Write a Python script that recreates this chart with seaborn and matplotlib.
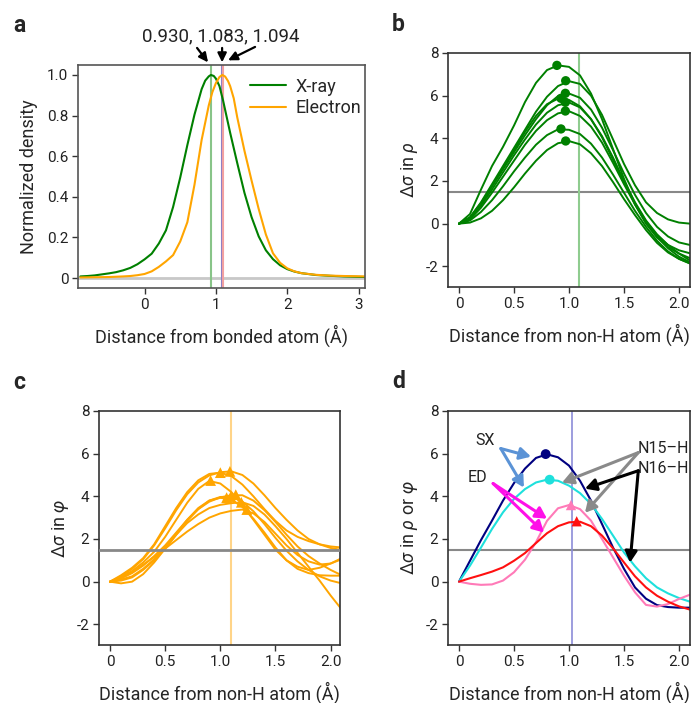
import numpy as np
import pandas as pd
import matplotlib
matplotlib.use("Agg")
import matplotlib.pyplot as plt
import seaborn as sns

sns.set_theme(style="white")
plt.rcParams['font.family'] = ['Roboto', 'DejaVu Sans']
plt.rcParams['mathtext.fontset'] = 'custom'
plt.rcParams['mathtext.rm'] = 'Roboto'
plt.rcParams['mathtext.it'] = 'Roboto:italic'

# ---------------- data ----------------
# panel a (normalized density vs distance from bonded atom)
xray_x = [-0.9, -0.8, -0.7, -0.6, -0.5, -0.4, -0.3, -0.2, -0.1, 0.0, 0.1, 0.2, 0.3, 0.4,
          0.5, 0.6, 0.7, 0.8, 0.85, 0.9, 0.93, 0.97, 1.0, 1.05, 1.1, 1.2, 1.3, 1.4, 1.5,
          1.6, 1.7, 1.8, 1.9, 2.0, 2.1, 2.2, 2.4, 2.6, 2.8, 3.1]
xray_y = [0.008, 0.010, 0.013, 0.018, 0.023, 0.029, 0.038, 0.050, 0.068, 0.092, 0.12, 0.17,
          0.235, 0.35, 0.495, 0.655, 0.805, 0.93, 0.972, 0.993, 1.0, 0.995, 0.982, 0.945,
          0.875, 0.715, 0.565, 0.42, 0.3, 0.205, 0.137, 0.093, 0.063, 0.044, 0.032, 0.024,
          0.015, 0.011, 0.008, 0.005]
elec_x = [-0.9, -0.5, -0.3, -0.2, -0.1, 0.0, 0.1, 0.2, 0.3, 0.4, 0.5, 0.6, 0.7, 0.8, 0.9,
          0.95, 1.0, 1.05, 1.09, 1.13, 1.17, 1.2, 1.25, 1.3, 1.4, 1.5, 1.6, 1.7, 1.8, 1.9,
          2.0, 2.1, 2.2, 2.4, 2.6, 2.8, 3.1]
elec_y = [0.003, 0.005, 0.008, 0.010, 0.014, 0.02, 0.033, 0.055, 0.082, 0.113, 0.18, 0.275,
          0.46, 0.68, 0.85, 0.915, 0.96, 0.99, 1.0, 0.992, 0.97, 0.945, 0.885, 0.79, 0.627,
          0.48, 0.34, 0.215, 0.122, 0.075, 0.048, 0.033, 0.024, 0.016, 0.012, 0.010, 0.008]
a_vlines = [0.930, 1.083, 1.094]
a_label = "0.930, 1.083, 1.094"

# common distance grid (Å) for panels b-d
dist = [0.0, 0.1, 0.2, 0.3, 0.4, 0.5, 0.6, 0.7, 0.8, 0.9, 1.0,
        1.1, 1.2, 1.3, 1.4, 1.5, 1.6, 1.7, 1.8, 1.9, 2.0, 2.1]

# panel b (X-ray, rho)
b_curves = [
    [0, 0.45, 1.6, 2.7, 3.6, 4.6, 5.7, 6.6, 7.2, 7.42, 7.35, 6.95, 6.1, 4.9, 3.5, 2.1, 0.9, 0.0, -0.65, -1.1, -1.4, -1.62],
    [0, 0.3, 1.0, 1.85, 2.7, 3.55, 4.4, 5.25, 5.95, 6.45, 6.68, 6.55, 6.0, 5.1, 3.95, 2.8, 1.8, 1.0, 0.5, 0.2, 0.05, 0.0],
    [0, 0.28, 0.95, 1.75, 2.55, 3.35, 4.15, 4.9, 5.55, 5.98, 6.1, 5.9, 5.35, 4.5, 3.45, 2.35, 1.35, 0.5, -0.15, -0.6, -0.88, -1.0],
    [0, 0.28, 0.95, 1.75, 2.6, 3.45, 4.3, 5.05, 5.6, 5.86, 5.8, 5.5, 4.9, 4.05, 3.0, 1.95, 0.95, 0.1, -0.55, -1.0, -1.25, -1.39],
    [0, 0.25, 0.85, 1.6, 2.4, 3.2, 3.95, 4.65, 5.2, 5.55, 5.68, 5.45, 4.9, 4.1, 3.1, 2.0, 1.0, 0.15, -0.5, -1.0, -1.4, -1.73],
    [0, 0.2, 0.75, 1.45, 2.2, 2.95, 3.7, 4.35, 4.85, 5.17, 5.27, 5.05, 4.55, 3.8, 2.85, 1.85, 0.9, 0.05, -0.6, -1.15, -1.55, -1.81],
    [0, 0.15, 0.55, 1.1, 1.75, 2.45, 3.1, 3.7, 4.15, 4.42, 4.4, 4.2, 3.75, 3.1, 2.3, 1.45, 0.6, -0.15, -0.8, -1.3, -1.65, -1.86],
    [0, 0.05, 0.25, 0.6, 1.1, 1.7, 2.35, 2.95, 3.45, 3.77, 3.87, 3.72, 3.3, 2.7, 1.95, 1.15, 0.4, -0.3, -0.9, -1.35, -1.65, -1.87],
]
b_peak_x = [0.89, 0.97, 0.967, 0.927, 0.967, 0.967, 0.927, 0.97]
b_peak_y = [7.42, 6.70, 6.11, 5.875, 5.69, 5.28, 4.44, 3.875]
b_vline = 1.09

# panel c (electron, phi)
c_curves = [
    [0, 0.2, 0.5, 0.9, 1.4, 2.1, 2.9, 3.7, 4.35, 4.72, 4.6, 4.2, 3.6, 2.9, 2.2, 1.5, 1.0, 0.7, 0.55, 0.65, 0.85, 1.1],
    [0, 0.3, 0.65, 1.1, 1.75, 2.6, 3.45, 4.2, 4.75, 5.05, 5.11, 4.95, 4.55, 4.0, 3.4, 2.85, 2.4, 2.1, 1.9, 1.75, 1.65, 1.6],
    [0, 0.25, 0.6, 1.05, 1.7, 2.5, 3.35, 4.1, 4.65, 4.98, 5.13, 5.17, 5.0, 4.6, 4.05, 3.45, 2.9, 2.4, 2.0, 1.75, 1.58, 1.48],
    [0, 0.1, 0.25, 0.6, 1.05, 1.6, 2.25, 2.9, 3.45, 3.8, 3.93, 3.85, 3.5, 2.95, 2.3, 1.6, 1.0, 0.6, 0.4, 0.3, 0.28, 0.28],
    [0, 0.05, 0.2, 0.55, 1.0, 1.55, 2.2, 2.85, 3.4, 3.8, 3.97, 3.98, 3.75, 3.3, 2.7, 2.05, 1.45, 0.95, 0.55, 0.25, 0.05, -0.08],
    [0, 0.15, 0.4, 0.75, 1.2, 1.7, 2.3, 2.9, 3.4, 3.75, 3.95, 4.05, 4.05, 3.8, 3.35, 2.8, 2.2, 1.65, 1.2, 0.85, 0.55, 0.3],
    [0, -0.08, 0.0, 0.35, 0.9, 1.55, 2.2, 2.75, 3.15, 3.45, 3.6, 3.68, 3.72, 3.55, 3.15, 2.6, 2.0, 1.35, 0.7, 0.05, -0.65, -1.3],
    [0, 0.2, 0.45, 0.8, 1.15, 1.55, 1.95, 2.35, 2.7, 3.0, 3.2, 3.32, 3.38, 3.2, 2.8, 2.25, 1.7, 1.25, 0.95, 0.8, 0.85, 1.05],
]
c_peak_x = [0.912, 1.0, 1.087, 1.057, 1.094, 1.14, 1.19, 1.24]
c_peak_y = [4.74, 5.11, 5.17, 3.94, 3.99, 4.08, 3.72, 3.38]
c_vline = 1.094

# panel d
d_sx_n15 = [0, 0.98, 1.95, 2.86, 3.8, 4.62, 5.3, 5.8, 5.97, 5.83, 5.44, 4.73, 3.8, 2.7, 1.6, 0.6, -0.27, -0.8, -1.1, -1.19, -1.22, -1.22]
d_sx_n16 = [0, 0.75, 1.6, 2.47, 3.25, 3.88, 4.34, 4.65, 4.78, 4.73, 4.5, 4.15, 3.64, 2.94, 2.16, 1.37, 0.72, 0.16, -0.27, -0.55, -0.77, -0.94]
d_ed_n15 = [0, -0.1, -0.15, -0.13, 0.05, 0.44, 1.03, 1.85, 2.85, 3.44, 3.59, 3.4, 2.86, 2.0, 1.14, 0.28, -0.5, -1.09, -1.17, -1.05, -0.81, -0.61]
d_ed_n16 = [0, 0.16, 0.31, 0.47, 0.67, 0.98, 1.34, 1.81, 2.27, 2.6, 2.78, 2.81, 2.6, 2.16, 1.56, 0.9, 0.25, -0.27, -0.66, -0.94, -1.16, -1.31]
d_peak_x = [0.788, 0.824, 1.018, 1.07]
d_peak_y = [5.98, 4.78, 3.59, 2.83]
d_vline = 1.024
threshold = 1.5

# ---------------- figure ----------------
W, H = 692, 703
fig = plt.figure(figsize=(W / 100, H / 100), dpi=100)

def ax_px(l, t, r, b):
    return fig.add_axes([l / W, 1 - b / H, (r - l) / W, (b - t) / H])

axa = ax_px(78, 65, 365, 288)
axb = ax_px(448, 53, 690, 287)
axc = ax_px(99, 411, 340, 645)
axd = ax_px(448, 411, 690, 645)

TICK = 11
LAB = 13
ANN = 11.5

def style(ax, spine_color="#333333"):
    for s in ax.spines.values():
        s.set_visible(True)
        s.set_color(spine_color)
        s.set_linewidth(1.2)
    ax.tick_params(axis="both", which="both", direction="out", length=4, width=1,
                   color="#333333", labelsize=TICK, labelcolor="#222222", pad=3)
    ax.tick_params(bottom=True, left=True)
    ax.grid(False)

# ---- panel a ----
sns.lineplot(x=xray_x, y=xray_y, ax=axa, color="green", lw=1.5, label="X-ray", sort=False)
sns.lineplot(x=elec_x, y=elec_y, ax=axa, color="orange", lw=1.5, label="Electron", sort=False)
axa.axhline(0, color="#c8c8c8", lw=2, zorder=0)
axa.axvline(a_vlines[0], color="#88c488", lw=1.5, zorder=0)
axa.axvline(a_vlines[1], color="#8a7fc6", lw=1.5, zorder=0)
axa.axvline(a_vlines[2], color="#f2a0a0", lw=1.5, zorder=0)
axa.set_xlim(-0.933, 3.09)
axa.set_ylim(-0.049, 1.049)
axa.set_xticks([0, 1, 2, 3])
axa.set_xticklabels(["0", "1", "2", "3"])
axa.set_yticks([0, 0.2, 0.4, 0.6, 0.8, 1.0])
axa.set_yticklabels(["0", "0.2", "0.4", "0.6", "0.8", "1.0"])
axa.set_xlabel("Distance from bonded atom (Å)", fontsize=LAB, labelpad=9)
axa.set_ylabel("Normalized density", fontsize=LAB, labelpad=6)
style(axa, "#555555")
leg = axa.legend(loc="upper right", frameon=False, fontsize=LAB, handlelength=2.0,
                 handletextpad=0.5, bbox_to_anchor=(1.03, 1.0), borderaxespad=0.3,
                 labelspacing=0.2)
axa.text(1.073, 1.165, a_label, ha="center", va="baseline", fontsize=13.5,
         color="#222222", clip_on=False)
arrow_kw = dict(arrowstyle="-|>,head_length=0.45,head_width=0.22", lw=1.6, color="black",
                shrinkA=0, shrinkB=0)
for tail, head in [((0.736, 1.133), (0.89, 1.062)),
                   ((1.087, 1.133), (1.087, 1.062)),
                   ((1.549, 1.138), (1.17, 1.072))]:
    axa.annotate("", xy=head, xytext=tail, arrowprops=arrow_kw, annotation_clip=False)

# ---- panel b ----
for ys in b_curves:
    sns.lineplot(x=dist, y=ys, ax=axb, color="green", lw=1.4, sort=False)
sns.scatterplot(x=b_peak_x, y=b_peak_y, ax=axb, color="green", s=45, edgecolor="none", zorder=5)
axb.axhline(threshold, color="#888888", lw=1.5, zorder=0)
axb.axvline(b_vline, color="#8fcc8f", lw=1.5, zorder=0)

# ---- panel c ----
for ys in c_curves:
    sns.lineplot(x=dist, y=ys, ax=axc, color="orange", lw=1.4, sort=False)
sns.scatterplot(x=c_peak_x, y=c_peak_y, ax=axc, color="orange", marker="^", s=60,
                edgecolor="none", zorder=5)
axc.axhline(threshold, color="#888888", lw=2, zorder=3)
axc.axvline(c_vline, color="#ffd488", lw=1.5, zorder=0)

# ---- panel d ----
d_specs = [(d_sx_n15, "#000080"), (d_sx_n16, "#1ee0dc"), (d_ed_n15, "#ff7ab8"), (d_ed_n16, "#ff1010")]
for ys, col in d_specs:
    sns.lineplot(x=dist, y=ys, ax=axd, color=col, lw=1.5, sort=False)
sns.scatterplot(x=d_peak_x[:1], y=d_peak_y[:1], ax=axd, color="#000080", s=50, edgecolor="none", zorder=5)
sns.scatterplot(x=d_peak_x[1:2], y=d_peak_y[1:2], ax=axd, color="#1ee0dc", s=50, edgecolor="none", zorder=5)
sns.scatterplot(x=d_peak_x[2:3], y=d_peak_y[2:3], ax=axd, color="#ff7ab8", marker="^", s=55, edgecolor="none", zorder=5)
sns.scatterplot(x=d_peak_x[3:4], y=d_peak_y[3:4], ax=axd, color="#ff1010", marker="^", s=55, edgecolor="none", zorder=5)
axd.axhline(threshold, color="#888888", lw=1.5, zorder=0)
axd.axvline(d_vline, color="#8c8cd8", lw=1.2, zorder=0)

def arr(ax, tail, head, col):
    kw = dict(arrowstyle="-|>,head_length=0.55,head_width=0.3", lw=2.2, color=col,
              shrinkA=0, shrinkB=0)
    ax.annotate("", xy=head, xytext=tail, arrowprops=kw, annotation_clip=False)

axd.text(0.236, 6.6, "SX", ha="center", va="center", fontsize=ANN, color="#222222")
arr(axd, (0.38, 6.24), (0.655, 5.86), "#5b93d6")
arr(axd, (0.38, 6.24), (0.59, 4.41), "#5b93d6")
axd.text(0.164, 4.88, "ED", ha="center", va="center", fontsize=ANN, color="#222222")
arr(axd, (0.31, 4.6), (0.8, 2.95), "#ff10e8")
arr(axd, (0.31, 4.6), (0.773, 2.3), "#ff10e8")
axd.text(1.86, 6.24, "N15–H", ha="center", va="center", fontsize=ANN, color="#222222")
axd.text(1.86, 5.3, "N16–H", ha="center", va="center", fontsize=ANN, color="#222222")
arr(axd, (1.63, 6.05), (0.936, 4.64), "#8a8a8a")
arr(axd, (1.63, 6.05), (1.145, 3.23), "#8a8a8a")
arr(axd, (1.63, 5.2), (1.145, 4.36), "black")
arr(axd, (1.63, 5.2), (1.555, 0.89), "black")

# common styling for b, c, d
for ax, ylab in [(axb, r"$\mathit{\Delta\sigma}$ in $\mathit{\rho}$"),
                 (axc, r"$\mathit{\Delta\sigma}$ in $\mathit{\varphi}$"),
                 (axd, r"$\mathit{\Delta\sigma}$ in $\mathit{\rho}$ or $\mathit{\varphi}$")]:
    ax.set_xlim(-0.1, 2.1)
    ax.set_ylim(-2.97, 8.0)
    ax.set_xticks([0, 0.5, 1.0, 1.5, 2.0])
    ax.set_xticklabels(["0", "0.5", "1.0", "1.5", "2.0"])
    ax.set_yticks([-2, 0, 2, 4, 6, 8])
    ax.set_yticklabels(["-2", "0", "2", "4", "6", "8"])
    ax.set_xlabel("Distance from non-H atom (Å)", fontsize=LAB, labelpad=9)
    ax.set_ylabel(ylab, fontsize=LAB, labelpad=4)
    style(ax)
axc.set_xlim(-0.1, 2.085)

# panel letters
for lab, (px, py) in {"a": (13, 32), "b": (392, 31), "c": (13, 389), "d": (392, 388)}.items():
    fig.text(px / W, 1 - py / H, lab, fontsize=16.5, fontweight="bold", ha="left", va="baseline")

fig.savefig("out.png", dpi=100)
